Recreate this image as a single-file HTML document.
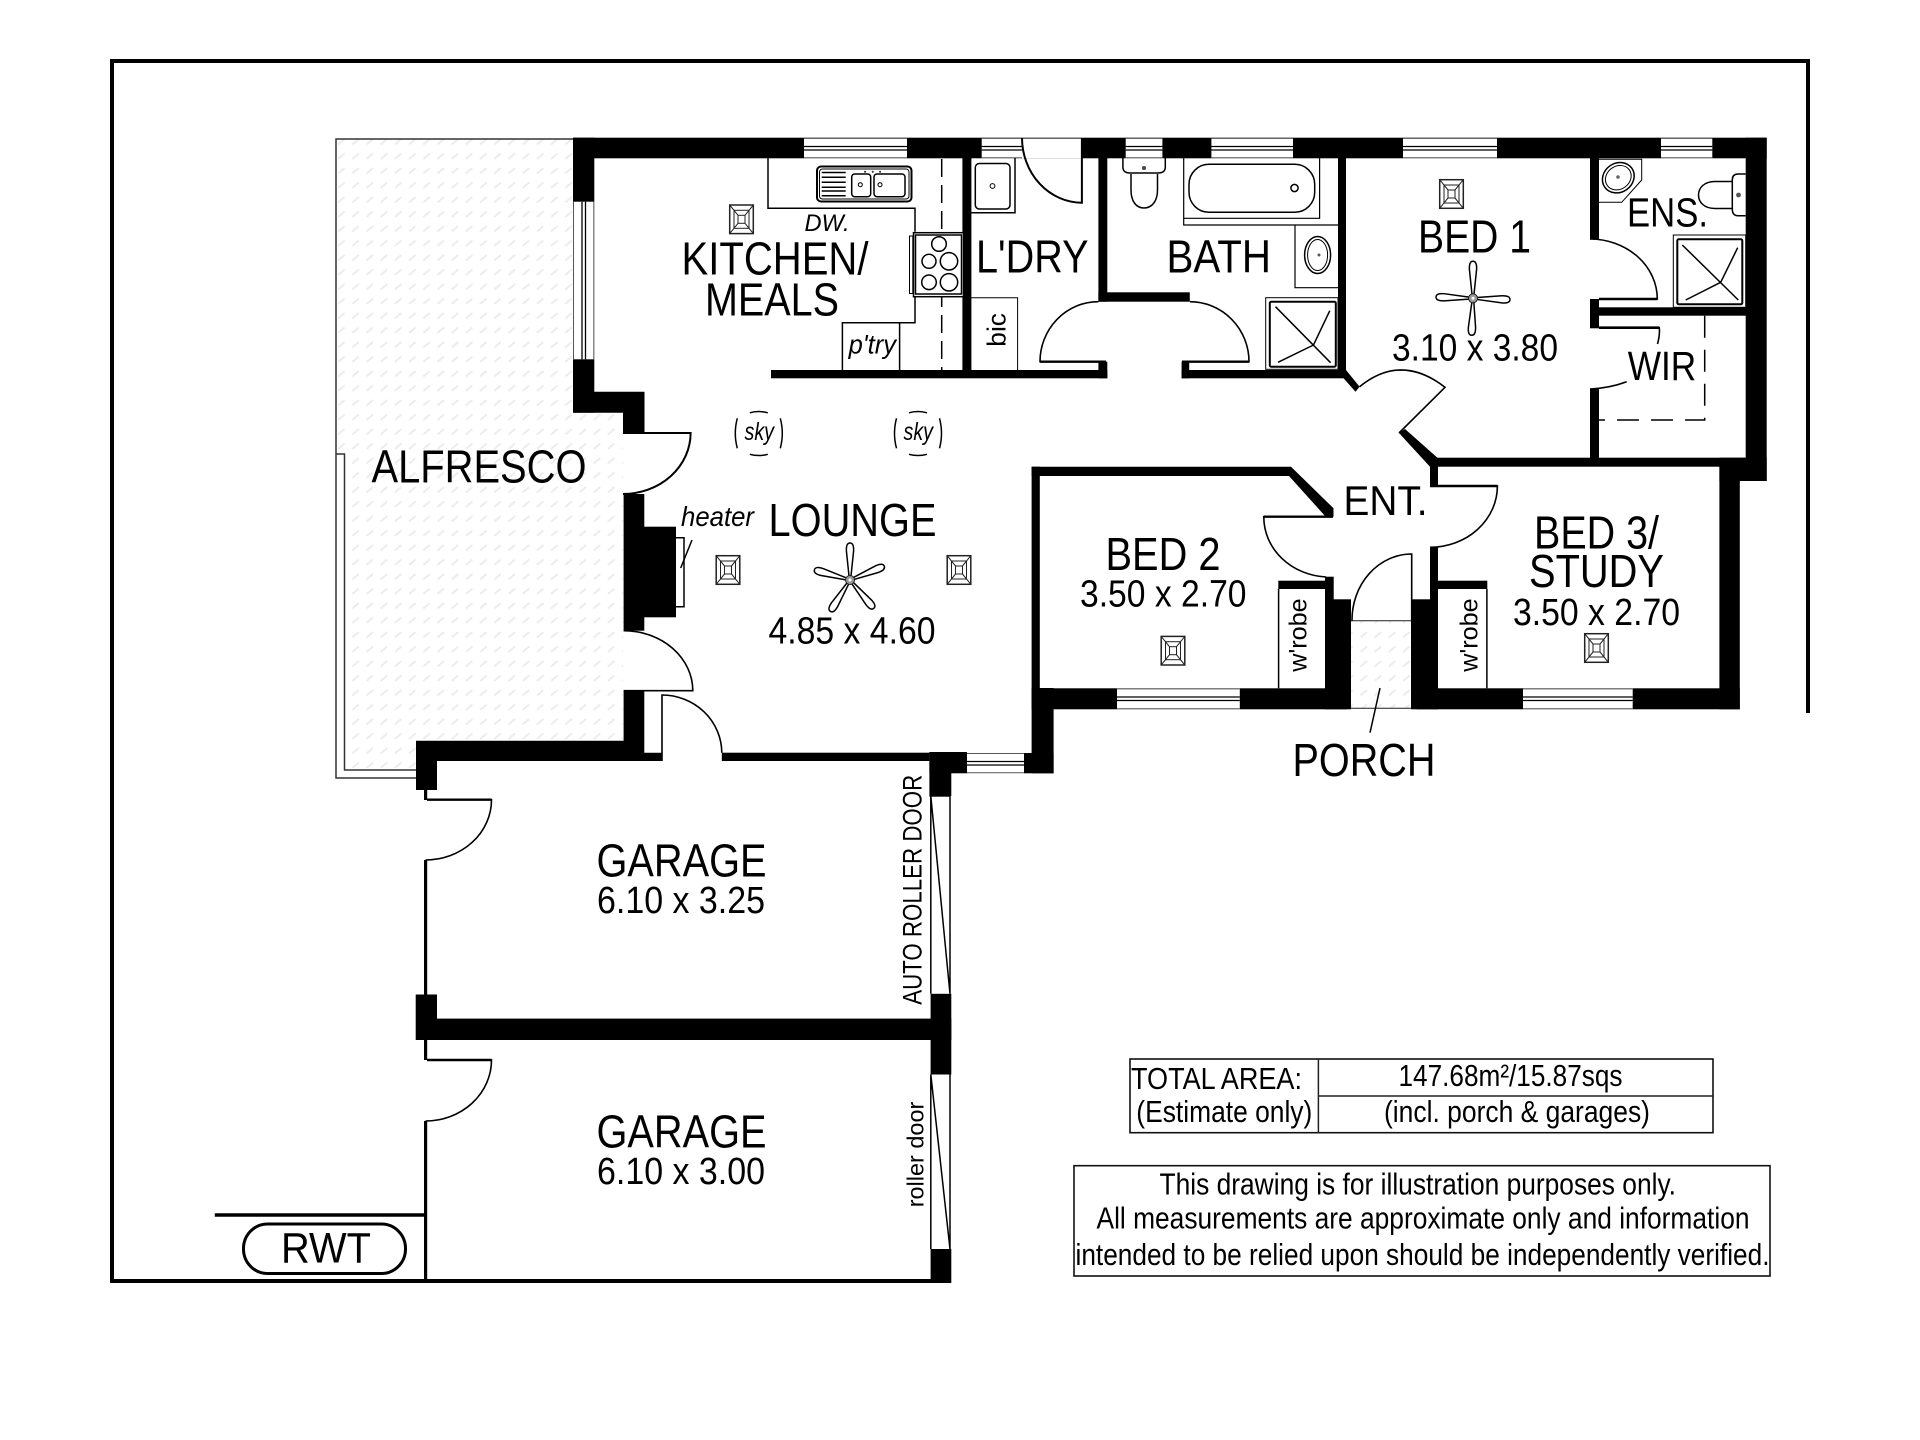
<!DOCTYPE html>
<html><head><meta charset="utf-8"><style>
html,body{margin:0;padding:0;background:#fff}
svg{display:block}
text{font-family:"Liberation Sans",sans-serif;fill:#000}
.i{font-style:italic}
.t{fill:none;stroke:#000;stroke-width:1.5}
.m{fill:none;stroke:#000;stroke-width:2}
.g{fill:none;stroke:#444;stroke-width:1.2}
.w{fill:#fff;stroke:none}
</style></head><body>
<svg width="1920" height="1440" viewBox="0 0 1920 1440" xmlns="http://www.w3.org/2000/svg">
<defs>
<pattern id="h" x="348.3" y="149" width="14.2" height="14.5" patternUnits="userSpaceOnUse">
<path d="M4 10L10.5 4.5" stroke="#ececec" stroke-width="2" fill="none"/>
</pattern>
<symbol id="dl" viewBox="0 0 25 30" width="25" height="30" overflow="visible">
<rect x=".7" y=".7" width="23.6" height="28.6" class="t" style="stroke:#222"/>
<rect x="5" y="6" width="15" height="18" class="t" style="stroke:#222;stroke-width:1"/>
<rect x="9" y="11" width="7" height="8" class="t" style="stroke:#222;stroke-width:1"/>
<path d="M.7 .7L9 11M24.3 .7L16 11M.7 29.3L9 19M24.3 29.3L16 19" class="t" style="stroke:#222;stroke-width:1"/>
</symbol>
<g id="bl"><path d="M-1 -4L-3.6 -29Q-4 -37 0 -37Q4 -37 3.6 -29L1 -4" class="t" fill="#fff"/></g>
<g id="sky"><path d="M-9 -20.5Q0 -23 9 -20.5M-9 21Q0 23.5 9 21M-21.5 -15Q-25.5 0 -21.5 15M21.5 -15Q25.5 0 21.5 15" class="t"/></g>
</defs>
<rect width="1920" height="1440" fill="#fff"/>

<!-- boundary -->
<path d="M1808 713V61H112V1281H951" fill="none" stroke="#000" stroke-width="4"/>
<path d="M214.8 1215H425.5" stroke="#000" stroke-width="3.5"/>
<rect x="243.5" y="1224" width="162" height="49.5" rx="24" ry="24.5" fill="none" stroke="#000" stroke-width="3"/>

<!-- alfresco + porch -->
<path d="M336 139H573V412.7H623V741H416V770H344.5V454H336Z" fill="url(#h)"/>
<path d="M573 139H336V778H416M336.5 454H344.5V770H416" class="t" style="stroke:#333"/>
<rect x="1346.7" y="620.7" width="70" height="87.6" fill="url(#h)" stroke="#444" stroke-width="1.2"/>
<path d="M1380 688L1370 732.7" class="t"/>

<!-- walls -->
<g fill="#000">
<rect x="573" y="137.7" width="1193.7" height="20.6"/>
<rect x="573" y="137.7" width="21.3" height="275"/>
<path d="M573 391.7H644.5V433.3H623V412.7H573Z"/>
<rect x="623.6" y="494" width="20.7" height="136.7"/>
<rect x="644" y="526.7" width="32" height="90.6"/>
<path d="M416 740.7H623.6V690.7H644.3V752.7H662V761H437V790H416Z"/>
<rect x="721.8" y="752.7" width="207.6" height="8.3"/>
<rect x="929.4" y="752" width="37.6" height="21.3"/>
<rect x="929.4" y="752" width="21" height="44.7"/>
<rect x="1024" y="753" width="29.6" height="20.3"/>
<rect x="1031.6" y="688" width="22" height="85.3"/>
<rect x="1031.6" y="466.7" width="8.2" height="222"/>
<path d="M1031.6 466.7H1291L1333.5 508.3V516.7H1325.7L1289 476H1031.6Z"/>
<rect x="1031.6" y="688.3" width="315" height="21"/>
<rect x="1325" y="599.3" width="26" height="110"/>
<rect x="1325" y="576.7" width="8.7" height="24"/>
<rect x="1278.3" y="580.7" width="46.7" height="8.3"/>
<rect x="1411" y="599.3" width="27" height="110"/>
<rect x="1430" y="547" width="8" height="54"/>
<rect x="1430" y="458" width="8" height="28"/>
<rect x="1416.7" y="688.3" width="323.1" height="21"/>
<rect x="1438" y="580.7" width="49.3" height="8.3"/>
<rect x="1719.4" y="458" width="20.4" height="251.3"/>
<rect x="1430" y="457.7" width="315.7" height="9"/>
<rect x="1745.7" y="137.7" width="21" height="343.3"/>
<rect x="1719.4" y="457.7" width="47.3" height="23.3"/>
<path d="M1399 433L1405 429L1438 458.3V466.7H1430Z"/>
<rect x="962.4" y="158" width="9" height="212"/>
<rect x="1098.4" y="158" width="8.9" height="143.7"/>
<rect x="1098.4" y="292.3" width="91.4" height="9.4"/>
<rect x="771" y="370" width="336.3" height="8.3"/>
<rect x="1098.4" y="361.7" width="8.9" height="16.6"/>
<rect x="1181.6" y="370" width="164.4" height="8.3"/>
<rect x="1181.6" y="361.7" width="7.6" height="16.6"/>
<rect x="1338" y="158" width="8" height="214"/>
<path d="M1338 372L1346 370L1359.6 386.7L1355.5 391.7Z"/>
<rect x="1590" y="158" width="9" height="81"/>
<rect x="1590" y="299" width="9" height="29.3"/>
<rect x="1590" y="389" width="9" height="70"/>
<rect x="1590" y="307.3" width="156" height="8.4"/>
<rect x="415.7" y="994.5" width="21.3" height="45.5"/>
<rect x="437" y="1018.6" width="514.3" height="21.4"/>
<rect x="930.6" y="760" width="20.7" height="36"/>
<rect x="930.6" y="993.8" width="20.7" height="80.7"/>
<rect x="930.6" y="1249" width="20.7" height="34"/>
<rect x="424" y="790" width="3.2" height="10"/>
<rect x="424" y="860" width="3.2" height="135"/>
<rect x="424" y="1040" width="3.2" height="20"/>
<rect x="424" y="1121" width="3.2" height="161"/>
</g>

<!-- horizontal windows -->
<g>
<rect class="w" x="804" y="138.7" width="103" height="19.6"/>
<rect class="w" x="981.7" y="138.7" width="40.3" height="19.6"/>
<rect class="w" x="1022" y="138.7" width="59.7" height="19.6"/>
<rect class="w" x="1125.7" y="138.7" width="36.7" height="19.6"/>
<rect class="w" x="1211.4" y="138.7" width="81.6" height="19.6"/>
<rect class="w" x="1403" y="138.7" width="94" height="19.6"/>
<rect class="w" x="1661" y="138.7" width="51.3" height="19.6"/>
<rect class="w" x="1117" y="688.3" width="122.8" height="21"/>
<rect class="w" x="1523" y="688.3" width="109.7" height="21"/>
<rect class="w" x="967" y="753" width="57" height="20.3"/>
<rect class="w" x="573" y="201.7" width="21.3" height="157.6"/>
<path d="M804 138.3H907M981.7 138.3H1081.7M1125.7 138.3H1162.4M1211.4 138.3H1293M1403 138.3H1497M1661 138.3H1712.3M804 157.8H907M981.7 157.8H1022M1125.7 157.8H1162.4M1211.4 157.8H1293M1403 157.8H1497M1661 157.8H1712.3M1117 688.9H1239.8M1117 708.8H1239.8M1523 688.9H1632.7M1523 708.8H1632.7M967 753.5H1024M967 772.8H1024M573.5 201.7V359.3M593.8 201.7V359.3" stroke="#555" stroke-width="1" fill="none"/>
<path d="M804 146.5H907M804 150H907M981.7 146.5H1022M981.7 150H1022M1125.7 146.5H1162.4M1125.7 150H1162.4M1211.4 146.5H1293M1211.4 150H1293M1403 146.5H1497M1403 150H1497M1661 146.5H1712.3M1661 150H1712.3M1117 697H1239.8M1117 700.5H1239.8M1523 697H1632.7M1523 700.5H1632.7M967 761.5H1024M967 765H1024M582 201.7V359.3M585.5 201.7V359.3" stroke="#000" stroke-width="1.3" fill="none"/>
</g>

<!-- doors -->
<g class="m" style="fill:none;stroke:#000;stroke-width:1.6">
<path d="M623 433H690.6A67.6 61 0 0 1 623 494" stroke-width="2"/>
<path d="M623.6 690.7H692.8A69 60 0 0 0 623.6 630.7"/>
<path d="M662 761V695A60 58 0 0 1 721.8 752.7"/>
<path d="M1106 361.7H1040A58.4 60 0 0 1 1098.4 301.7"/>
<path d="M1182 361.7H1249A59.2 60 0 0 0 1189.8 301.7"/>
<path d="M1359.6 386.7Q1401 353 1445 387.3L1399 433"/>
<path d="M1333 516.7H1263.8A66 60 0 0 0 1326 577"/>
<path d="M1430 486H1497.4A67.4 61.3 0 0 1 1430 547.3"/>
<path d="M1411.7 620.7V554A59.7 66 0 0 0 1352 620.7"/>
<path d="M1590 239A67.3 60 0 0 1 1657.3 299H1599" />
<path d="M1599 327.7H1659.3Q1660 335 1657.5 344"/>
<path d="M1626.7 381.7Q1610 388 1590 389"/>
<path d="M1081.9 138V202.7A60 65 0 0 1 1022 138" style="stroke-width:2"/>
<path d="M427 799.7H491.5A66 60.3 0 0 1 425.5 860"/>
<path d="M427 1060H491.5A66 61 0 0 1 425.5 1121"/>
</g>
<path d="M1599 299H1657.3M1599 327.7H1659.3" stroke="#000" stroke-width="2.6"/>
<path d="M427 799.7H491.5M427 1060H491.5M1263.8 516.7H1333M1430 486H1497.4M1040 361.7H1106M1182 361.7H1249" stroke="#000" stroke-width="2.4"/>

<!-- wardrobe sides -->
<path d="M1278.6 589V688.3M1486.9 589V688.3" class="t"/>

<!-- heater -->
<path d="M676 537.7H684V606.7H676" class="t"/>
<path d="M692 540L680.7 568" class="t"/>

<!-- garage roller doors -->
<path d="M930.8 796V993.8M950 796V993.8M930.8 796L950 993.8M930.8 1074.5V1249M950 1074.5V1249M930.8 1074.5L950 1249" class="t"/>

<!-- kitchen -->
<path d="M768 158V208.3H915V231.7M915 296.7V322.7H842.4V370M899.6 322.7V370" class="t"/>
<path d="M941.7 159V370" stroke="#000" stroke-width="1.5" stroke-dasharray="18 8" fill="none"/>
<rect x="817" y="166.5" width="94.5" height="35" rx="4" class="m"/>
<rect x="819.5" y="169" width="89.5" height="30" rx="3" class="t" style="stroke-width:1"/>
<path d="M821.7 172.5H845.7M821.7 177.3H845.7M821.7 182.3H845.7M821.7 187.3H845.7M821.7 191H845.7M821.7 195.7H845.7" class="t"/>
<rect x="851.7" y="174" width="19" height="22.7" rx="3" class="t"/>
<rect x="874" y="174" width="31" height="22.7" rx="3" class="t"/>
<circle cx="860.3" cy="184.7" r="2" class="t" style="stroke-width:1"/>
<circle cx="880" cy="184.7" r="2" class="t" style="stroke-width:1"/>
<path d="M865 171.7h.1M872.7 171.7h.1M880 171.7h.1" stroke="#333" stroke-width="2" stroke-linecap="round"/>
<rect x="913.5" y="232.7" width="50" height="64" fill="#fff" stroke="#000" stroke-width="1.5"/>
<rect x="915.5" y="235" width="46" height="59" class="t" style="stroke-width:1.5"/>
<rect x="909.5" y="236" width="3.3" height="57.5" class="t" style="stroke-width:1"/>
<g class="t" style="stroke-width:1.5">
<circle cx="939" cy="244" r="7.3"/><circle cx="929" cy="261.3" r="7"/><circle cx="949" cy="261.3" r="8.7"/><circle cx="929" cy="282.3" r="7.3"/><circle cx="949" cy="282.3" r="8.7"/>
</g>

<!-- laundry -->
<path d="M1015 158V212.7H971.4" class="t"/>
<rect x="975.3" y="163.5" width="34.7" height="45.5" rx="4" class="t"/>
<circle cx="992.5" cy="186" r="2.4" class="t" style="stroke-width:1"/>
<path d="M971.4 297.7H1017.6V370" class="t" style="stroke-width:1"/>

<!-- bath -->
<path d="M1122.9 158V167Q1123 173 1130 173H1158Q1165.3 173 1165.3 167V158" class="t"/>
<circle cx="1144" cy="168" r="2" fill="#444"/>
<path d="M1131 174V190C1131 201 1136 208 1144 208S1157.5 201 1157.5 190V174" class="t"/>
<path d="M1183.7 158V218.3H1319.6V158M1183.7 218.3V225H1338M1295 225V287.7H1338" class="t" style="stroke-width:1.2"/>
<rect x="1189" y="164.3" width="125.7" height="48" rx="20" class="t"/>
<circle cx="1294.5" cy="188" r="3.6" class="t"/>
<ellipse cx="1317.6" cy="255" rx="13" ry="18.5" class="t"/>
<ellipse cx="1317.6" cy="255" rx="10" ry="15.5" class="t" style="stroke-width:1"/>
<circle cx="1319" cy="255" r="1.5" fill="#555"/>
<rect x="1265.7" y="297.7" width="72.3" height="71.6" class="t" style="stroke-width:1"/>
<rect x="1269.8" y="301.7" width="66" height="65" rx="1.5" class="m"/>
<path d="M1275.5 306.7L1330.6 362.7M1329.8 310.7L1313.5 345L1278 362.3" class="t"/>

<!-- ensuite -->
<path d="M1599 159.3H1641.7V180L1621.7 202.3H1599" class="t" style="stroke-width:1"/>
<ellipse cx="1618.3" cy="177.7" rx="16.5" ry="14.5" transform="rotate(-35 1618.3 177.7)" class="t"/>
<ellipse cx="1618.3" cy="177.7" rx="13.5" ry="11.5" transform="rotate(-35 1618.3 177.7)" class="t" style="stroke-width:1"/>
<circle cx="1618" cy="177" r="1.8" fill="#666"/>
<path d="M1745.7 174H1738Q1732.3 174 1732.3 180V209Q1732.3 215.7 1738 215.7H1745.7" class="t"/>
<circle cx="1738.5" cy="195" r="2.4" fill="#555"/>
<path d="M1732.3 181.5H1715C1704 181.5 1698.5 188 1698.5 195S1704 208.5 1715 208.5H1732.3" class="t"/>
<rect x="1673.3" y="235" width="72.4" height="72.3" class="t" style="stroke-width:1"/>
<rect x="1677.3" y="239.3" width="65" height="65" rx="1.5" class="m"/>
<path d="M1682.3 245L1738.3 300M1737.7 247.7L1720.7 282.3L1685.7 300" class="t"/>
<path d="M1704.7 315.7V420H1599" fill="none" stroke="#000" stroke-width="1.5" stroke-dasharray="22 12"/>

<!-- downlights -->
<use href="#dl" x="729" y="204.3"/>
<use href="#dl" x="1439" y="179"/>
<use href="#dl" x="715.5" y="555"/>
<use href="#dl" x="946.5" y="555"/>
<use href="#dl" x="1160.5" y="635.7"/>
<use href="#dl" x="1584" y="633"/>

<!-- fans -->
<g transform="translate(850 580)">
<use href="#bl"/><use href="#bl" transform="rotate(68)"/><use href="#bl" transform="rotate(140)"/><use href="#bl" transform="rotate(212)"/><use href="#bl" transform="rotate(286)"/>
<circle r="4.5" fill="#999" stroke="#222" stroke-width="1"/><circle r="1.5" fill="#fff"/>
</g>
<g transform="translate(1473 298.3)">
<use href="#bl"/><use href="#bl" transform="rotate(92)"/><use href="#bl" transform="rotate(182)"/><use href="#bl" transform="rotate(272)"/>
<circle r="4.5" fill="#999" stroke="#222" stroke-width="1"/><circle r="1.5" fill="#fff"/>
</g>

<!-- skylights -->
<use href="#sky" x="758.8" y="433.3"/>
<use href="#sky" x="918" y="433.3"/>
<text x="744.5" y="440" font-size="25" class="i" textLength="29.5" lengthAdjust="spacingAndGlyphs">sky</text>
<text x="903.5" y="440" font-size="25" class="i" textLength="29.5" lengthAdjust="spacingAndGlyphs">sky</text>

<!-- labels -->
<g font-size="46">
<text x="371.5" y="482.5" textLength="215" lengthAdjust="spacingAndGlyphs">ALFRESCO</text>
<text x="681.5" y="274.5" textLength="187" lengthAdjust="spacingAndGlyphs">KITCHEN/</text>
<text x="705" y="315.5" textLength="134" lengthAdjust="spacingAndGlyphs">MEALS</text>
<text x="768.5" y="536" textLength="168" lengthAdjust="spacingAndGlyphs">LOUNGE</text>
<text x="976" y="272.5" textLength="112.5" lengthAdjust="spacingAndGlyphs">L'DRY</text>
<text x="1166.5" y="272.5" textLength="104.5" lengthAdjust="spacingAndGlyphs">BATH</text>
<text x="1418" y="252.7" textLength="113" lengthAdjust="spacingAndGlyphs">BED 1</text>
<text x="1627" y="226.7" textLength="81" lengthAdjust="spacingAndGlyphs" font-size="41">ENS.</text>
<text x="1627.7" y="380" textLength="68.5" lengthAdjust="spacingAndGlyphs" font-size="41">WIR</text>
<text x="1343.5" y="515" textLength="84" lengthAdjust="spacingAndGlyphs" font-size="42">ENT.</text>
<text x="1105.5" y="570" textLength="115" lengthAdjust="spacingAndGlyphs">BED 2</text>
<text x="1534" y="548.7" textLength="125" lengthAdjust="spacingAndGlyphs">BED 3/</text>
<text x="1529" y="587.2" textLength="135" lengthAdjust="spacingAndGlyphs">STUDY</text>
<text x="1292.5" y="776" textLength="143" lengthAdjust="spacingAndGlyphs">PORCH</text>
<text x="596.5" y="876.5" textLength="170" lengthAdjust="spacingAndGlyphs">GARAGE</text>
<text x="596.5" y="1147.5" textLength="170" lengthAdjust="spacingAndGlyphs">GARAGE</text>
<text x="281" y="1262.5" textLength="90" lengthAdjust="spacingAndGlyphs" font-size="43">RWT</text>
</g>
<g font-size="38">
<text x="768.5" y="643.5" textLength="167" lengthAdjust="spacingAndGlyphs">4.85 x 4.60</text>
<text x="1392" y="360.5" textLength="166" lengthAdjust="spacingAndGlyphs">3.10 x 3.80</text>
<text x="1080" y="606.7" textLength="166.5" lengthAdjust="spacingAndGlyphs">3.50 x 2.70</text>
<text x="1513" y="625" textLength="167" lengthAdjust="spacingAndGlyphs">3.50 x 2.70</text>
<text x="597" y="913" textLength="168" lengthAdjust="spacingAndGlyphs">6.10 x 3.25</text>
<text x="597" y="1184" textLength="168" lengthAdjust="spacingAndGlyphs">6.10 x 3.00</text>
</g>
<text x="804.5" y="231" font-size="24" textLength="45" lengthAdjust="spacingAndGlyphs" class="i">DW.</text>
<text x="848.6" y="353.3" font-size="27" textLength="47.4" lengthAdjust="spacingAndGlyphs" class="i">p'try</text>
<text x="681" y="526" font-size="28" textLength="73" lengthAdjust="spacingAndGlyphs" class="i">heater</text>
<text transform="translate(1005.3 346.7) rotate(-90)" font-size="26" textLength="33.7" lengthAdjust="spacingAndGlyphs">bic</text>
<text transform="translate(1306.7 671.7) rotate(-90)" font-size="25" textLength="73.4" lengthAdjust="spacingAndGlyphs">w'robe</text>
<text transform="translate(1477.5 671.7) rotate(-90)" font-size="25" textLength="73.4" lengthAdjust="spacingAndGlyphs">w'robe</text>
<text transform="translate(923.3 1207.3) rotate(-90)" font-size="23.5" textLength="105.6" lengthAdjust="spacingAndGlyphs">roller door</text>
<text transform="translate(921.5 1004.8) rotate(-90)" font-size="27" textLength="230" lengthAdjust="spacingAndGlyphs">AUTO ROLLER DOOR</text>

<!-- info boxes -->
<rect x="1130" y="1059" width="583" height="73.7" fill="none" stroke="#111" stroke-width="1.6"/>
<path d="M1318.4 1059V1132.7M1318.4 1096H1713" stroke="#222" stroke-width="1.5" fill="none"/>
<rect x="1074" y="1165.7" width="696" height="110.3" fill="none" stroke="#111" stroke-width="1.6"/>
<g font-size="31">
<text x="1131" y="1089" textLength="171" lengthAdjust="spacingAndGlyphs">TOTAL AREA:</text>
<text x="1136.3" y="1122" textLength="176" lengthAdjust="spacingAndGlyphs">(Estimate only)</text>
<text x="1398.5" y="1086" textLength="224" lengthAdjust="spacingAndGlyphs">147.68m²/15.87sqs</text>
<text x="1384" y="1122" textLength="266" lengthAdjust="spacingAndGlyphs">(incl. porch &amp; garages)</text>
<text x="1159.5" y="1194.3" textLength="516.5" lengthAdjust="spacingAndGlyphs">This drawing is for illustration purposes only.</text>
<text x="1096.5" y="1228.3" textLength="653" lengthAdjust="spacingAndGlyphs">All measurements are approximate only and information</text>
<text x="1075.5" y="1265" textLength="694" lengthAdjust="spacingAndGlyphs">intended to be relied upon should be independently verified.</text>
</g>
</svg>
</body></html>
